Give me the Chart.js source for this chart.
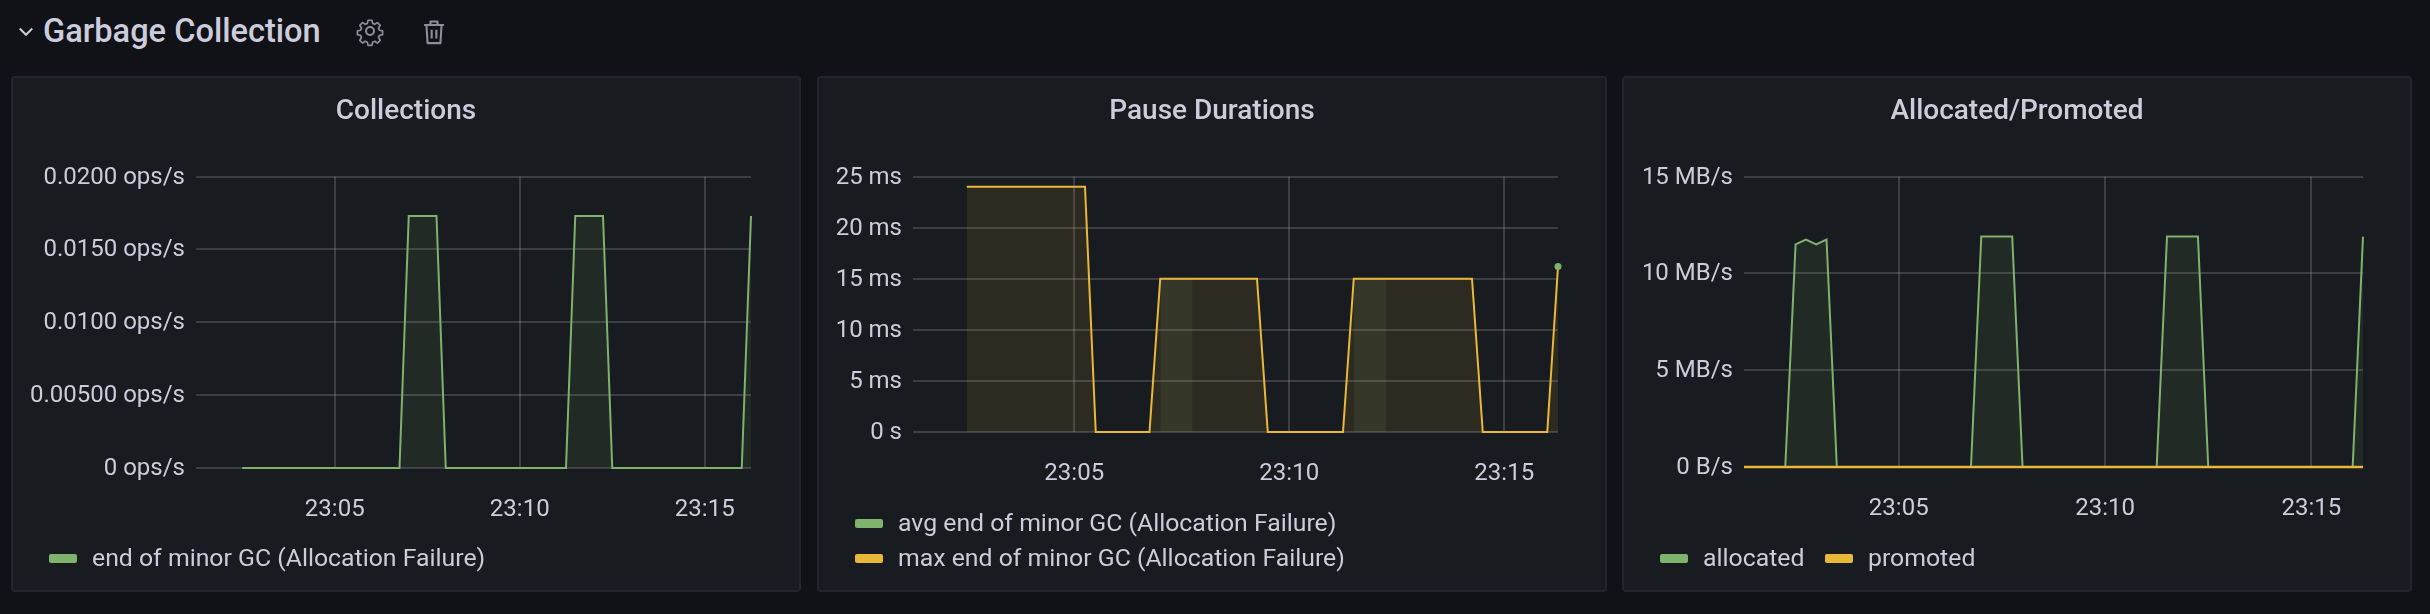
<!DOCTYPE html>
<html>
<head>
<meta charset="utf-8">
<title>Garbage Collection</title>
<script src="https://cdn.jsdelivr.net/npm/chart.js@4/dist/chart.umd.js"></script>
<style>
  html, body { margin: 0; padding: 0; background: #111217; }
  body { width: 2430px; height: 614px; overflow: hidden; position: relative; font-family: Roboto, sans-serif; color: rgb(204,204,220); }
  .row-title { position: absolute; left: 43px; top: 10px; font-size: 32.6px; line-height: 42px; font-weight: 500; }
  .icon { position: absolute; }
  .panel { position: absolute; top: 76px; height: 516px; width: 790px; box-sizing: border-box; background: #181b1f; border: 2px solid #22252b; border-radius: 4px; }
  .panel canvas { position: absolute; left: -2px; top: -2px; }
  .panel-title { position: absolute; left: -2px; right: -2px; top: 15px; text-align: center; font-size: 28px; line-height: 34px; font-weight: 500; }
  .legend-item { position: absolute; font-size: 24.8px; line-height: 30px; white-space: nowrap; }
  .legend-item i { position: absolute; left: 1px; top: 11px; width: 28px; height: 9px; border-radius: 2px; }
  .legend-item span { margin-left: 44px; }
  #p1 { left: 11px; }
  #p2 { left: 817px; }
  #p3 { left: 1622px; }
</style>
</head>
<body>
<svg class="icon" style="left:16px;top:21px" width="20" height="20" viewBox="0 0 16 16" fill="none" stroke="#ccccdc" stroke-width="1.6"><path d="M3 6l5 5 5-5"/></svg>
<div class="row-title">Garbage Collection</div>
<svg class="icon" style="left:354px;top:15px" width="32" height="32" viewBox="0 0 24 24" fill="none" stroke="#8e8e9a" stroke-width="1.5" stroke-linejoin="round"><circle cx="12" cy="12" r="3"/><path d="M10.3 2.5h3.4l.6 2.8 1.9.8 2.4-1.5 2.4 2.4-1.5 2.4.8 1.9 2.8.6v3.4l-2.8.6-.8 1.9 1.5 2.4-2.4 2.4-2.4-1.5-1.9.8-.6 2.8h-3.4l-.6-2.8-1.9-.8-2.4 1.5-2.4-2.4 1.5-2.4-.8-1.9-2.8-.6v-3.4l2.8-.6.8-1.9-1.5-2.4 2.4-2.4 2.4 1.5 1.9-.8z" transform="translate(1.8 1.8) scale(.85)"/></svg>
<svg class="icon" style="left:420px;top:18px" width="28" height="28" viewBox="0 0 24 24" fill="none" stroke="#8e8e9a" stroke-width="1.8" stroke-linejoin="round"><path d="M3.5 6h17M9 6V3h6v3M5.5 6l1 15.5h11l1-15.5M10 10v7.5M14 10v7.5"/></svg>

<div class="panel" id="p1"><canvas id="collections" width="790" height="516"></canvas></div>
<div class="panel" id="p2"><canvas id="pause" width="790" height="516"></canvas></div>
<div class="panel" id="p3"><canvas id="allocated" width="790" height="516"></canvas></div>

<script>
// time axis, shared by the three panels
const xMin = '23:01:15';
const xMax = '23:16:15';
const xTicks = ['23:05:00', '23:10:00', '23:15:00'];
const xTickLabels = ['23:05', '23:10', '23:15'];

// Collections
const collectionsTimes = ['23:02:30', '23:06:45', '23:07:00', '23:07:45', '23:08:00', '23:11:15', '23:11:30', '23:12:15', '23:12:30', '23:16:00', '23:16:15'];
const collectionsValues = [0, 0, 0.0173, 0.0173, 0, 0, 0.0173, 0.0173, 0, 0, 0.0173];
const collectionsTicks = [0, 0.005, 0.01, 0.015, 0.02];
const collectionsTickLabels = ['0 ops/s', '0.00500 ops/s', '0.0100 ops/s', '0.0150 ops/s', '0.0200 ops/s'];

// Pause Durations (ms)
const pauseMaxTimes = ['23:02:30', '23:05:15', '23:05:30', '23:06:45', '23:07:00', '23:09:15', '23:09:30', '23:11:15', '23:11:30', '23:14:15', '23:14:30', '23:16:00', '23:16:15'];
const pauseMaxValues = [24, 24, 0, 0, 15, 15, 0, 0, 15, 15, 0, 0, 16.2];
const pauseAvgTimes = ['23:07:00', '23:07:45', '23:08:00', '23:11:30', '23:12:15', '23:12:30', '23:16:15'];
const pauseAvgValues = [15, 15, null, 15, 15, null, 16.2];
const pauseTicks = [0, 5, 10, 15, 20, 25];
const pauseTickLabels = ['0 s', '5 ms', '10 ms', '15 ms', '20 ms', '25 ms'];

// Allocated/Promoted (MB/s)
const allocatedTimes = ['23:01:15', '23:02:15', '23:02:30', '23:02:45', '23:03:00', '23:03:15', '23:03:30', '23:06:45', '23:07:00', '23:07:45', '23:08:00', '23:11:15', '23:11:30', '23:12:15', '23:12:30', '23:16:00', '23:16:15'];
const allocatedValues = [0, 0, 11.5, 11.75, 11.5, 11.75, 0, 0, 11.9, 11.9, 0, 0, 11.9, 11.9, 0, 0, 11.9];
const promotedTimes = ['23:01:15', '23:16:15'];
const promotedValues = [0, 0];
const allocatedTicks = [0, 5, 10, 15];
const allocatedTickLabels = ['0 B/s', '5 MB/s', '10 MB/s', '15 MB/s'];

const GREEN = '#7EB26D';
const YELLOW = '#EAB839';
const TEXT = 'rgb(204,204,220)';
const GRID = 'rgba(204,204,220,0.2)';
const TICK_FONT = { family: 'Roboto', size: 24 };

// minutes since 23:00, the x scale is a plain linear one
function toMinutes(t) {
    const p = t.split(':').map(Number);
    return (p[0] - 23) * 60 + p[1] + p[2] / 60;
}

function points(times, values) {
    return times.map((t, i) => ({ x: toMinutes(t), y: values[i] }));
}

function series(label, color, data, extra) {
    return Object.assign({
        label: label,
        data: data,
        legendColor: color,
        borderColor: color,
        backgroundColor: color + '1A',
        borderWidth: 2,
        fill: 'origin',
        tension: 0,
        pointRadius: 0,
        spanGaps: false,
        clip: false
    }, extra);
}

// title and legend sit in the panel div, same as the dashboard does it
function addPanelText(panel, title, datasets, legendRows) {
    const el = document.getElementById(panel);
    const t = document.createElement('div');
    t.className = 'panel-title';
    t.textContent = title;
    el.appendChild(t);
    datasets.forEach((d, i) => {
        const item = document.createElement('div');
        item.className = 'legend-item';
        item.style.left = (35 + legendRows[i].x) + 'px';
        item.style.top = legendRows[i].y + 'px';
        item.innerHTML = `<i style="background:${d.legendColor}"></i><span>${d.label}</span>`;
        el.appendChild(item);
    });
}

function makeChart(id, opts) {
    const xValues = xTicks.map(toMinutes);
    addPanelText(opts.panel, opts.title, opts.datasets, opts.legendRows);
    new Chart(document.getElementById(id), {
        type: 'line',
        data: { datasets: opts.datasets },
        options: {
            responsive: false,
            animation: false,
            layout: { padding: { right: opts.right, top: 100.6, bottom: opts.bottom } },
            plugins: {
                legend: { display: false },
                tooltip: { enabled: false }
            },
            scales: {
                x: {
                    type: 'linear',
                    min: toMinutes(xMin),
                    max: toMinutes(xMax),
                    afterBuildTicks: s => { s.ticks = xValues.map(v => ({ value: v })); },
                    afterFit: s => { s.height = 70; },
                    grid: { color: GRID, lineWidth: 2, drawTicks: false },
                    border: { display: false },
                    ticks: {
                        color: TEXT,
                        font: TICK_FONT,
                        padding: 28,
                        maxRotation: 0,
                        callback: v => xTickLabels[xValues.indexOf(v)]
                    }
                },
                y: {
                    min: opts.yTicks[0],
                    max: opts.yTicks[opts.yTicks.length - 1],
                    afterBuildTicks: s => { s.ticks = opts.yTicks.map(v => ({ value: v })); },
                    afterFit: s => { s.width = opts.yWidth; },
                    grid: { color: GRID, lineWidth: 2, drawTicks: false },
                    border: { display: false },
                    ticks: {
                        color: TEXT,
                        font: TICK_FONT,
                        padding: 11,
                        labelOffset: 1,
                        callback: v => opts.yLabels[opts.yTicks.indexOf(v)]
                    }
                }
            }
        }
    });
}

makeChart('collections', {
    panel: 'p1',
    title: 'Collections',
    yTicks: collectionsTicks,
    yLabels: collectionsTickLabels,
    yWidth: 185,
    right: 50,
    bottom: 54,
    legendRows: [{ x: 0, y: 465 }],
    datasets: [
        series('end of minor GC (Allocation Failure)', GREEN, points(collectionsTimes, collectionsValues))
    ]
});

makeChart('pause', {
    panel: 'p2',
    title: 'Pause Durations',
    yTicks: pauseTicks,
    yLabels: pauseTickLabels,
    yWidth: 96,
    right: 49,
    bottom: 90,
    legendRows: [{ x: 0, y: 430 }, { x: 0, y: 465 }],
    datasets: [
        // the avg line sits under the max line, only its fill and last point show
        series('avg end of minor GC (Allocation Failure)', GREEN, points(pauseAvgTimes, pauseAvgValues), {
            borderWidth: 0,
            pointRadius: ctx => ctx.dataIndex === pauseAvgValues.length - 1 ? 3.5 : 0,
            pointBackgroundColor: GREEN,
            pointBorderWidth: 0,
            order: 0
        }),
        series('max end of minor GC (Allocation Failure)', YELLOW, points(pauseMaxTimes, pauseMaxValues), { order: 1 })
    ]
});

makeChart('allocated', {
    panel: 'p3',
    title: 'Allocated/Promoted',
    yTicks: allocatedTicks,
    yLabels: allocatedTickLabels,
    yWidth: 122,
    right: 49,
    bottom: 55,
    legendRows: [{ x: 0, y: 465 }, { x: 165, y: 465 }],
    datasets: [
        series('allocated', GREEN, points(allocatedTimes, allocatedValues), { order: 1 }),
        series('promoted', YELLOW, points(promotedTimes, promotedValues), { order: 0, borderWidth: 2.4 })
    ]
});
</script>
</body>
</html>
